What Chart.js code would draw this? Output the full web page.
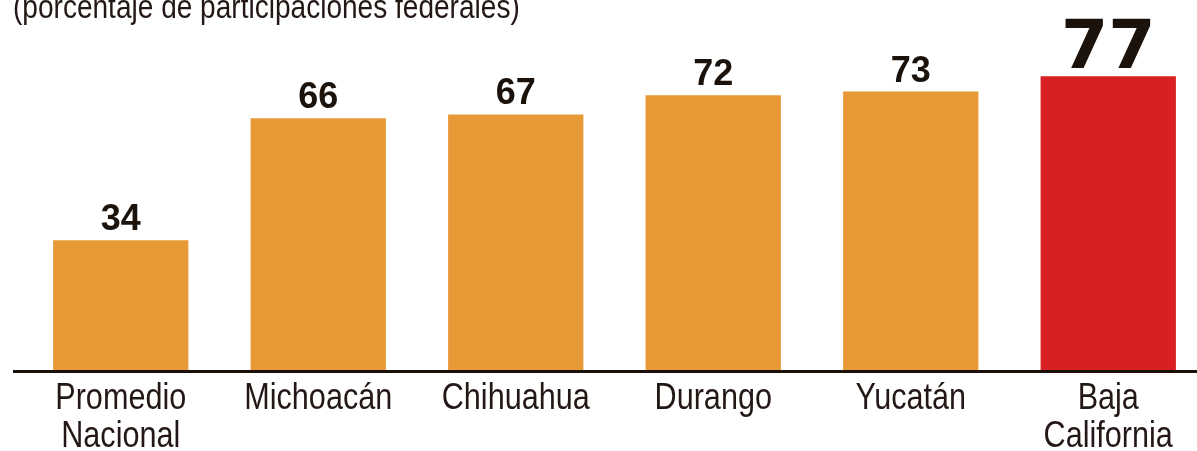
<!DOCTYPE html>
<html>
<head>
<meta charset="utf-8">
<script src="https://cdn.jsdelivr.net/npm/chart.js@4.4.1/dist/chart.umd.min.js"></script>
<style>
  html, body { margin:0; padding:0; background:#fff; overflow:hidden; width:1197px; height:451px; }
  #wrap { position:relative; width:1197px; height:451px; overflow:hidden; }
  #title { position:absolute; left:13px; top:-10px; font-family:"Liberation Sans", Arial, sans-serif; font-size:33px; color:#231815; white-space:nowrap; line-height:33px; transform:scaleX(0.85); transform-origin:0 0; }
  canvas { position:absolute; left:0; top:0; }
</style>
</head>
<body>
<div id="wrap">
  <canvas id="c" width="1210" height="451"></canvas>
  <div id="title">(porcentaje de participaciones federales)</div>
</div>
<script>
const categories = [["Promedio","Nacional"], "Michoacán", "Chihuahua", "Durango", "Yucatán", ["Baja","California"]];
const values = [34, 66, 67, 72, 73, 77];
const barColors = ["#E79935", "#E79935", "#E79935", "#E79935", "#E79935", "#D81F21"];
const highlightIndex = 5;

const baselinePlugin = {
  id: 'baseline',
  beforeDatasetsDraw(chart) {
    const ctx = chart.ctx;
    const y = chart.scales.y.getPixelForValue(0);
    ctx.save();
    ctx.strokeStyle = '#1b1008';
    ctx.lineWidth = 3;
    ctx.beginPath();
    ctx.moveTo(13, y + 1.5);
    ctx.lineTo(chart.width, y + 1.5);
    ctx.stroke();
    ctx.restore();
  }
};

const valueLabels = {
  id: 'valueLabels',
  afterDatasetsDraw(chart) {
    const ctx = chart.ctx;
    const meta = chart.getDatasetMeta(0);
    ctx.save();
    ctx.fillStyle = '#1a120b';
    ctx.textAlign = 'center';
    ctx.textBaseline = 'alphabetic';
    meta.data.forEach((bar, i) => {
      if (i === highlightIndex) {
        ctx.font = 'bold 68px "DejaVu Sans", sans-serif';
        ctx.fillText(String(values[i]), bar.x, bar.y - 8);
      } else {
        ctx.font = 'bold 36px "Liberation Sans", Arial, sans-serif';
        ctx.fillText(String(values[i]), bar.x, bar.y - 10);
      }
    });
    ctx.restore();
  }
};

// category labels drawn at the x scale's tick positions, slightly condensed
const categoryLabels = {
  id: 'categoryLabels',
  afterDraw(chart) {
    const ctx = chart.ctx;
    const xs = chart.scales.x;
    const top = chart.chartArea.bottom;
    const sx = 0.85;
    ctx.save();
    ctx.fillStyle = '#231815';
    ctx.textAlign = 'center';
    ctx.textBaseline = 'alphabetic';
    ctx.font = '36px "Liberation Sans", Arial, sans-serif';
    categories.forEach((lab, i) => {
      const lines = Array.isArray(lab) ? lab : [lab];
      const x = xs.getPixelForTick(i);
      lines.forEach((ln, j) => {
        ctx.save();
        ctx.translate(x, top + 39 + j * 37.7);
        ctx.scale(sx, 1);
        ctx.fillText(ln, 0, 0);
        ctx.restore();
      });
    });
    ctx.restore();
  }
};

new Chart(document.getElementById('c'), {
  type: 'bar',
  data: {
    labels: categories,
    datasets: [{
      data: values,
      backgroundColor: barColors,
      borderWidth: 0,
      categoryPercentage: 1.0,
      barPercentage: 0.685
    }]
  },
  options: {
    responsive: false,
    animation: false,
    devicePixelRatio: 1,
    layout: { padding: { left: 22, right: 3, top: 0, bottom: 0 } },
    plugins: { legend: { display: false }, tooltip: { enabled: false } },
    scales: {
      y: {
        display: false,
        min: 0,
        max: 97
      },
      x: {
        grid: { display: false, drawTicks: false },
        border: { display: false },
        ticks: { display: false },
        afterFit(scale) { scale.height = 81; }
      }
    }
  },
  plugins: [baselinePlugin, valueLabels, categoryLabels]
});
</script>
</body>
</html>
